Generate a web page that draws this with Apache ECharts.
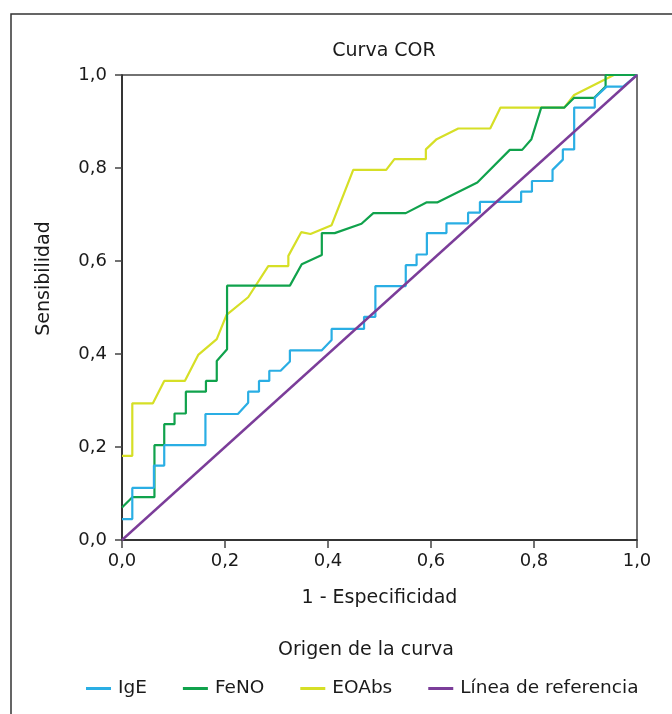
<!DOCTYPE html>
<html>
<head>
<meta charset="utf-8">
<script src="https://cdn.jsdelivr.net/npm/echarts@6/dist/echarts.min.js"></script>
<style>
  html, body { margin: 0; padding: 0; background: #fff; }
  #curva { width: 672px; height: 714px; }
</style>
</head>
<body>
<div id="curva"></div>
<script>
  // puntos [1 - especificidad, sensibilidad]
  const igE = [[0,0.045],[0.02,0.045],[0.02,0.112],[0.062,0.112],[0.062,0.16],[0.082,0.16],[0.082,0.204],
    [0.162,0.204],[0.162,0.271],[0.225,0.271],[0.245,0.295],[0.245,0.319],[0.266,0.319],[0.266,0.342],
    [0.286,0.342],[0.286,0.364],[0.308,0.364],[0.326,0.384],[0.326,0.408],[0.388,0.408],[0.407,0.43],
    [0.407,0.454],[0.47,0.454],[0.47,0.48],[0.492,0.48],[0.492,0.546],[0.551,0.546],[0.551,0.591],
    [0.572,0.591],[0.572,0.614],[0.592,0.614],[0.592,0.66],[0.63,0.66],[0.63,0.681],[0.672,0.681],
    [0.672,0.704],[0.695,0.704],[0.695,0.727],[0.775,0.727],[0.775,0.749],[0.796,0.749],[0.796,0.772],
    [0.836,0.772],[0.836,0.796],[0.856,0.818],[0.856,0.84],[0.878,0.84],[0.878,0.93],[0.918,0.93],
    [0.918,0.951],[0.941,0.975],[0.973,0.975],[1,1]];
  const feNO = [[0,0.07],[0.02,0.092],[0.063,0.092],[0.063,0.204],[0.082,0.204],[0.082,0.249],[0.102,0.249],
    [0.102,0.272],[0.124,0.272],[0.124,0.319],[0.163,0.319],[0.163,0.342],[0.184,0.342],[0.184,0.385],
    [0.204,0.41],[0.204,0.547],[0.326,0.547],[0.349,0.593],[0.388,0.613],[0.388,0.66],[0.413,0.66],
    [0.465,0.68],[0.488,0.703],[0.551,0.703],[0.591,0.726],[0.612,0.726],[0.69,0.769],[0.753,0.839],
    [0.777,0.839],[0.795,0.862],[0.814,0.93],[0.859,0.93],[0.878,0.951],[0.917,0.951],[0.939,0.975],
    [0.939,1],[1,1]];
  const eoAbs = [[0,0.181],[0.02,0.181],[0.02,0.294],[0.06,0.294],[0.082,0.342],[0.122,0.342],[0.148,0.398],
    [0.184,0.432],[0.203,0.484],[0.245,0.522],[0.284,0.589],[0.323,0.589],[0.323,0.611],[0.348,0.662],
    [0.366,0.658],[0.407,0.677],[0.449,0.796],[0.513,0.796],[0.529,0.819],[0.59,0.819],[0.59,0.84],
    [0.611,0.862],[0.653,0.885],[0.715,0.885],[0.735,0.93],[0.859,0.93],[0.878,0.957],[0.955,1],[1,1]];
  const referencia = [[0,0],[1,1]];
  const nombres = ['IgE', 'FeNO', 'EOAbs', 'Línea de referencia'];
  const colores = ['#2aaee4', '#10a24c', '#d6df26', '#7b3d99'];

  const fuente = '"DejaVu Sans", Verdana, sans-serif';
  const coma = v => v.toFixed(1).replace('.', ',');

  let myChart = echarts.init(document.getElementById('curva'));
  myChart.setOption({
    animation: false,
    textStyle: { fontFamily: fuente },
    title: [{
      text: 'Curva COR',
      left: 379, top: 37, textAlign: 'center',
      textStyle: { fontSize: 19, fontWeight: 'normal', color: '#1a1a1a', fontFamily: fuente }
    }, {
      text: 'Origen de la curva',
      left: 361, top: 636, textAlign: 'center',
      textStyle: { fontSize: 19, fontWeight: 'normal', color: '#1a1a1a', fontFamily: fuente }
    }],
    graphic: [{
      type: 'rect',
      shape: { x: 11, y: 14, width: 700, height: 720 },
      style: { fill: 'none', stroke: '#333', lineWidth: 1.5 },
      silent: true
    }],
    legend: {
      top: 674, left: 81,
      itemWidth: 25, itemHeight: 3, itemGap: 36,
      icon: 'rect',
      textStyle: { fontSize: 18.5, color: '#1a1a1a', fontFamily: fuente, padding: [0, 0, 0, 2] },
      data: nombres
    },
    grid: {
      left: 122, top: 75, width: 515, height: 465,
      show: true, borderColor: '#444', borderWidth: 1.5
    },
    xAxis: {
      type: 'value', min: 0, max: 1, interval: 0.2,
      name: '1 - Especificidad', nameLocation: 'middle', nameGap: 49,
      nameTextStyle: { fontSize: 19, color: '#1a1a1a', verticalAlign: 'top' },
      axisLine: { lineStyle: { color: '#222', width: 1.5 } },
      axisTick: { show: true, length: 8, lineStyle: { color: '#444', width: 1.5 } },
      axisLabel: { formatter: coma, fontSize: 18, color: '#1a1a1a', margin: 12 },
      splitLine: { show: false }
    },
    yAxis: {
      type: 'value', min: 0, max: 1, interval: 0.2,
      name: 'Sensibilidad', nameLocation: 'middle', nameGap: 68,
      nameTextStyle: { fontSize: 19, color: '#1a1a1a', padding: [0, 0, 0, 58] },
      axisLine: { show: true, lineStyle: { color: '#222', width: 1.5 } },
      axisTick: { show: true, length: 7, lineStyle: { color: '#444', width: 1.5 } },
      axisLabel: { formatter: coma, fontSize: 18, color: '#1a1a1a', margin: 15 },
      splitLine: { show: false }
    },
    series: [igE, feNO, eoAbs, referencia].map((d, i) => ({
      name: nombres[i],
      type: 'line',
      data: d,
      symbol: 'none',
      z: [4, 3, 2, 5][i],
      color: colores[i],
      lineStyle: { color: colores[i], width: i === 3 ? 2.4 : 2.2 }
    }))
  });
  window.onresize = myChart.resize;
</script>
</body>
</html>
